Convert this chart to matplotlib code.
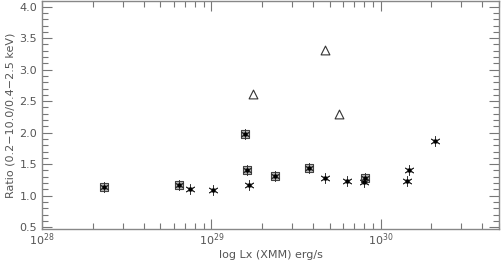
import matplotlib
matplotlib.use("Agg")
import matplotlib.pyplot as plt
import numpy as np
from matplotlib.ticker import LogLocator, MultipleLocator, FixedLocator

# Square (with asterisk) points
sq_x = [2.33e28, 6.47e28, 1.59e29, 1.63e29, 2.39e29, 3.80e29, 8.15e29]
sq_y = [1.14, 1.17, 1.98, 1.41, 1.31, 1.44, 1.28]
# Asterisk-only points
ast_x = [7.52e28, 1.03e29, 1.68e29, 4.73e29, 6.3e29, 7.95e29, 1.47e30, 1.44e30, 2.11e30]
ast_y = [1.11, 1.09, 1.17, 1.28, 1.24, 1.21, 1.40, 1.24, 1.87]
# Triangle points
tri_x = [1.77e29, 4.73e29, 5.65e29]
tri_y = [2.61, 3.31, 2.30]

y_ticks = [0.5, 1.0, 1.5, 2.0, 2.5, 3.0, 3.5, 4.0]

fig = plt.figure(figsize=(5.01, 2.64), dpi=100)
ax = fig.add_axes([42/501, 1 - 229/264, 457/501, 228/264])

tc = "#555555"
ax.scatter(sq_x, sq_y, marker="s", s=40, facecolor="#bbbbbb", edgecolor="#444444", linewidths=0.8, zorder=3)
allx = sq_x + ast_x
ally = sq_y + ast_y
ax.scatter(allx, ally, marker=(6, 2, 0), s=45, color="#333333", linewidths=0.7, zorder=4)
ax.scatter(allx, ally, marker="o", s=5, color="#000000", zorder=5)
ax.scatter(tri_x, tri_y, marker="^", s=40, facecolor="white", edgecolor="#333333", linewidths=0.8, zorder=3)

ax.set_xscale("log")
ax.set_xlim(1e28, 10**30.70)
ax.set_ylim(0.47, 4.09)
ax.set_yticks(y_ticks)
ax.set_yticklabels([f"{v:.1f}" for v in y_ticks])
ax.yaxis.set_minor_locator(MultipleLocator(0.1))
ax.xaxis.set_major_locator(FixedLocator([1e28, 1e29, 1e30]))
ax.xaxis.set_minor_locator(LogLocator(base=10, subs=np.arange(2, 10)))
ax.set_xticklabels([r"$10^{28}$", r"$10^{29}$", r"$10^{30}$"])

ax.tick_params(which="both", direction="in", top=True, right=True, colors="#777777",
               labelcolor=tc, labelsize=8)
ax.tick_params(which="major", length=7, width=0.8)
ax.tick_params(which="minor", length=4, width=0.8)
ax.tick_params(axis="x", pad=2)
for s in ax.spines.values():
    s.set_color("#888888")
    s.set_linewidth(1.0)

ax.set_xlabel("log Lx (XMM) erg/s", color=tc, fontsize=8, labelpad=1)
ax.set_ylabel("Ratio (0.2\u221210.0/0.4\u22122.5 keV)", color=tc, fontsize=8, labelpad=3)

fig.savefig("out.png", dpi=100)
